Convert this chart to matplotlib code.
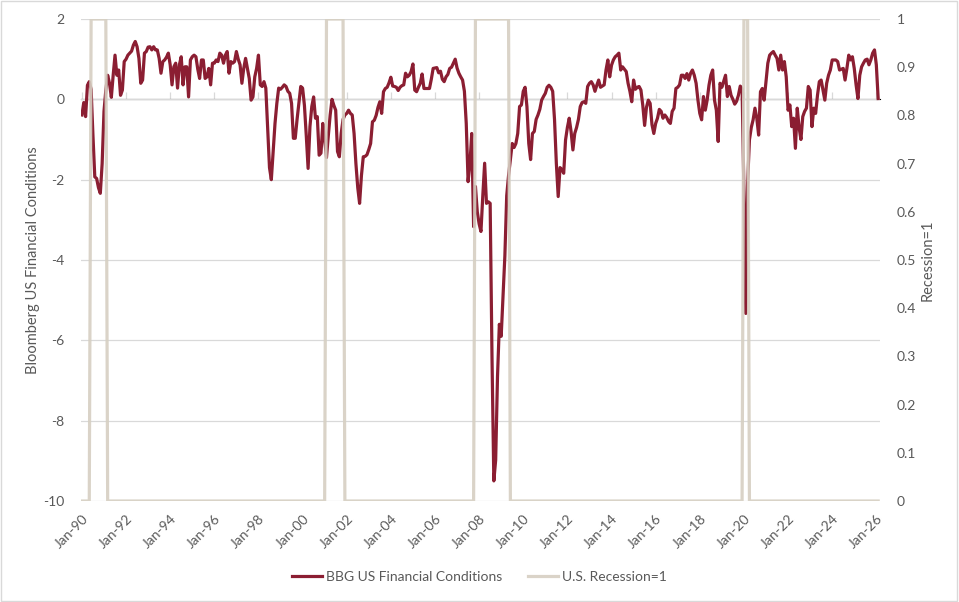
import matplotlib
matplotlib.use("Agg")
from matplotlib import pyplot as plt
from matplotlib.patches import Rectangle

# monthly values, Jan-1990 onward (one row per year)
fci_1990s = [
    -0.39, -0.08, -0.43, 0.35, 0.44, 0.25, -0.9, -1.93, -1.97, -2.2, -2.34, -1.6,
    -0.3, 0.23, 0.6, 0.4, 0.05, 0.6, 1.1, 0.6, 0.73, 0.1, 0.23, 0.94,
    1.0, 1.1, 1.15, 1.2, 1.35, 1.44, 1.31, 1.02, 0.4, 0.48, 1.15, 1.19,
    1.3, 1.31, 1.23, 1.31, 1.23, 1.23, 1.02, 0.65, 0.94, 0.98, 1.05, 1.15,
    0.86, 0.36, 0.81, 0.9, 0.28, 0.86, 1.06, 0.36, 0.81, 0.81, 0.06, 0.98,
    1.06, 1.1, 1.06, 0.75, 0.52, 0.98, 0.98, 0.52, 0.56, 0.77, 0.36, 0.9,
    0.9, 0.98, 0.94, 1.15, 1.1, 0.9, 1.1, 1.19, 0.65, 0.94, 0.9, 0.94,
    1.19, 1.0, 0.86, 0.4, 0.77, 1.02, 0.77, 0.52, -0.02, 0.06, 0.56, 0.77,
    1.1, 0.36, 0.32, 0.44, 0.28, -0.7, -1.7, -2.0, -1.3, -0.6, -0.1, 0.28,
    0.25, 0.3, 0.36, 0.32, 0.2, 0.15, -0.1, -0.97, -0.97, -0.5, -0.1, 0.32,
]
fci_2000s = [
    0.28, -0.15, -0.9, -1.72, -0.68, -0.18, 0.06, -0.47, -0.43, -1.39, -1.34, -0.6,
    -1.0, -1.45, -0.9, -0.39, 0.0, -0.15, -0.27, -1.3, -1.43, -0.85, -0.5, -0.39,
    -0.35, -0.27, -0.35, -0.39, -0.85, -1.6, -2.2, -2.59, -1.9, -1.43, -1.42, -1.38,
    -1.25, -1.1, -0.56, -0.52, -0.4, -0.2, -0.06, -0.35, 0.19, 0.27, 0.3, 0.41,
    0.55, 0.33, 0.32, 0.3, 0.22, 0.3, 0.34, 0.36, 0.65, 0.56, 0.6, 0.69,
    0.88, 0.23, 0.19, 0.3, 0.4, 0.63, 0.27, 0.27, 0.27, 0.27, 0.5, 0.77,
    0.78, 0.79, 0.66, 0.7, 0.5, 0.44, 0.56, 0.62, 0.77, 0.8, 0.9, 1.0,
    0.78, 0.65, 0.56, 0.48, 0.2, -0.6, -2.05, -1.6, -0.85, -3.17, -2.17, -2.8,
    -3.1, -3.29, -2.4, -1.59, -2.59, -2.55, -2.59, -6.4, -9.5, -8.98, -6.9, -5.6,
    -5.9, -4.9, -3.9, -2.4, -1.9, -1.5, -1.1, -1.2, -1.1, -0.85, -0.18, -0.14,
]
fci_2010s = [
    0.2, 0.3, -0.18, -1.1, -1.5, -0.85, -0.8, -0.5, -0.39, -0.25, -0.02, 0.07,
    0.15, 0.3, 0.35, 0.3, 0.2, -0.5, -1.6, -2.42, -1.7, -1.75, -1.84, -1.01,
    -0.7, -0.47, -0.8, -1.26, -0.85, -0.7, -0.5, -0.18, -0.08, -0.06, -0.1, 0.32,
    0.4, 0.44, 0.36, 0.2, 0.35, 0.48, 0.3, 0.33, 0.36, 0.73, 0.98, 0.56,
    0.85, 0.98, 1.06, 1.1, 1.15, 0.73, 0.81, 0.75, 0.69, 0.4, 0.2, -0.06,
    0.48, 0.25, 0.3, 0.32, 0.23, -0.15, -0.65, -0.2, -0.02, -0.1, -0.63, -0.85,
    -0.6, -0.47, -0.25, -0.3, -0.47, -0.39, -0.45, -0.55, -0.6, -0.3, -0.22, 0.27,
    0.3, 0.36, 0.6, 0.6, 0.52, 0.64, 0.48, 0.65, 0.73, 0.6, 0.4, -0.02,
    -0.35, -0.51, 0.07, -0.27, -0.02, 0.35, 0.6, 0.73, -0.02, -0.27, -1.05, 0.4,
    0.3, 0.45, 0.6, 0.07, 0.32, 0.1, 0.0, -0.12, -0.05, 0.1, 0.33, 0.27,
]
fci_2020s = [
    -2.3, -5.33, -2.09, -1.01, -0.7, -0.51, -0.22, -0.47, -0.89, 0.19, 0.27, -0.02,
    0.44, 0.9, 1.1, 1.15, 1.19, 1.1, 1.02, 0.73, 1.1, 0.73, 0.94, 0.56,
    -0.27, -0.14, -0.68, -0.47, -1.22, -0.22, -0.7, -1.0, -0.43, -0.3, -0.22, 0.32,
    0.23, -0.68, -0.22, -0.35, 0.1, 0.44, 0.48, 0.23, -0.02, 0.4, 0.6, 0.73,
    0.98, 0.98, 0.98, 0.94, 0.73, 0.75, 0.77, 0.48, 0.77, 1.1, 0.98, 1.06,
    0.77, 0.36, 0.02, 0.6, 0.81, 0.9, 0.98, 1.0, 0.86, 0.98, 1.15, 1.23,
    0.86, 0.02,
]
fci = fci_1990s + fci_2000s + fci_2010s + fci_2020s

# recession flag (1 = recession), month ranges as drawn in the original
recession_months = [(5, 13), (133, 142), (214, 232), (360, 362)]
recession = [0] * len(fci)
for a, b in recession_months:
    for m in range(a, b + 1):
        recession[m] = 1

months = list(range(len(fci)))
tick_pos = list(range(0, 433, 24))
tick_labels = ["Jan-%02d" % ((1990 + p // 12) % 100) for p in tick_pos]

red = "#8B1E32"
tan = "#D6CFC2"
grey_txt = "#595959"
grid_c = "#D9D9D9"

plt.rcParams["font.family"] = ["Lato", "DejaVu Sans"]
plt.rcParams["font.size"] = 10
plt.rcParams["axes.unicode_minus"] = False

fig = plt.figure(figsize=(9.59, 6.02), dpi=100)
ax = fig.add_axes([81 / 959, 1 - 501 / 602, (880 - 81) / 959, (501 - 19) / 602])
ax2 = ax.twinx()

ax.plot(months, fci, color=red, lw=2.3, solid_joinstyle="round", label="BBG US Financial Conditions", zorder=3)
ax2.plot(months, recession, color=tan, lw=2.3, alpha=0.9, label="U.S. Recession=1")

ax.set_xlim(-0.5, 434)
ax.set_ylim(-10, 2)
ax.set_yticks(range(-10, 3, 2))
ax.grid(axis="y", color=grid_c, lw=0.9)
ax.set_axisbelow(True)
ax2.set_ylim(0, 1)
ax2.set_yticks([i / 10 for i in range(11)])
ax2.set_yticklabels(["0"] + ["%.1f" % (i / 10) for i in range(1, 10)] + ["1"])

for a in (ax, ax2):
    for s in a.spines.values():
        s.set_visible(False)

ax.set_xticks(tick_pos)
ax.set_xticklabels(tick_labels, rotation=45, ha="right", rotation_mode="anchor")
ax.tick_params(axis="x", length=0, pad=8, colors=grey_txt)
ax.tick_params(axis="y", length=0, pad=12, colors=grey_txt)
ax2.tick_params(axis="y", length=0, pad=12, colors=grey_txt)

# horizontal axis line sits at zero with its tick marks
sec = ax.secondary_xaxis(10 / 12)
sec.set_xticks(tick_pos)
sec.set_xticklabels([])
sec.tick_params(axis="x", direction="out", length=5, width=0.9, color=grid_c)
sec.spines["bottom"].set_color(grid_c)
sec.spines["bottom"].set_linewidth(0.9)

ax.set_ylabel("Bloomberg US Financial Conditions", color=grey_txt, fontsize=10.5, labelpad=2)
ax2.set_ylabel("Recession=1", color=grey_txt, fontsize=10.5, labelpad=3)

h1, l1 = ax.get_legend_handles_labels()
h2, l2 = ax2.get_legend_handles_labels()
fig.legend(h1 + h2, l1 + l2, loc="center", bbox_to_anchor=(0.5, 1 - 577 / 602), ncol=2,
           frameon=False, handlelength=2.2, handletextpad=0.3, columnspacing=1.8,
           labelcolor=grey_txt)

fig.patches.append(Rectangle((0.001, 0.001), 0.997, 0.997, transform=fig.transFigure,
                             fill=False, edgecolor=grid_c, lw=1))

fig.savefig("out.png", dpi=100)
